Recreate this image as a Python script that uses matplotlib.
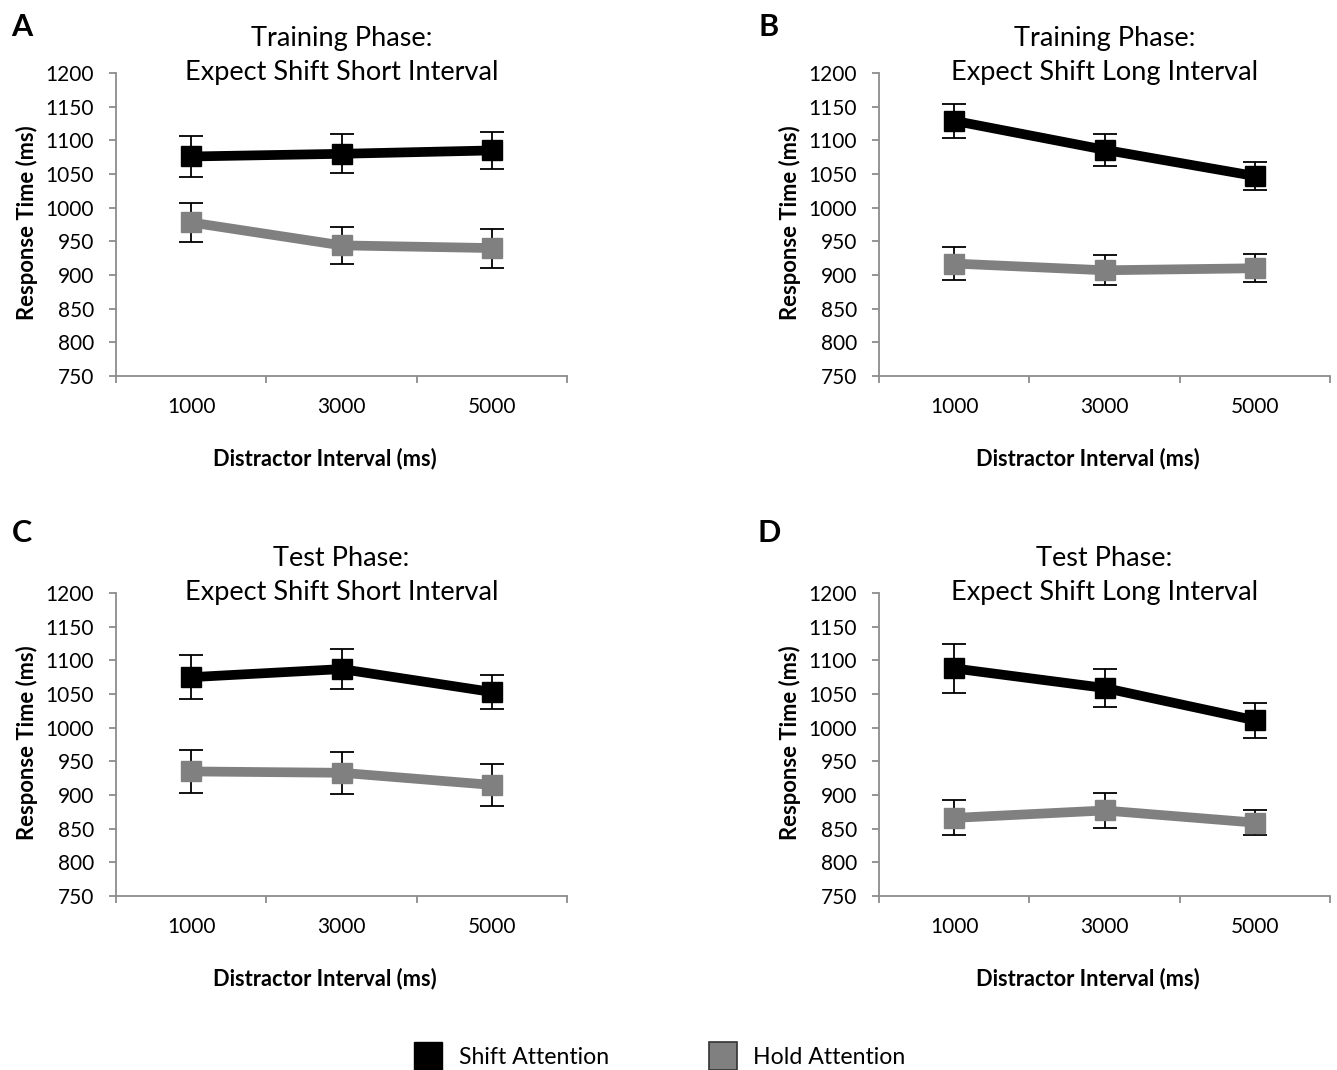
import matplotlib
matplotlib.use("Agg")
import matplotlib.pyplot as plt
from matplotlib.lines import Line2D

plt.rcParams['font.family'] = ['Lato', 'DejaVu Sans']

categories = ["1000", "3000", "5000"]
series_names = ["Shift Attention", "Hold Attention"]

# Panel A
a_shift = [1076, 1080, 1085]
a_shift_err = [31, 29, 28]
a_hold = [978, 944, 940]
a_hold_err = [29, 28, 29]
# Panel B
b_shift = [1129, 1086, 1047]
b_shift_err = [25, 24, 21]
b_hold = [917, 907, 910]
b_hold_err = [25, 22, 21]
# Panel C
c_shift = [1075, 1087, 1053]
c_shift_err = [33, 30, 25]
c_hold = [935, 933, 915]
c_hold_err = [32, 31, 31]
# Panel D
d_shift = [1088, 1059, 1011]
d_shift_err = [36, 28, 26]
d_hold = [866, 877, 859]
d_hold_err = [26, 26, 19]

panel_letters = ["A", "B", "C", "D"]
titles = [("Training Phase:", "Expect Shift Short Interval"),
          ("Training Phase:", "Expect Shift Long Interval"),
          ("Test Phase:", "Expect Shift Short Interval"),
          ("Test Phase:", "Expect Shift Long Interval")]
yticks = [750, 800, 850, 900, 950, 1000, 1050, 1100, 1150, 1200]
xlabel = "Distractor Interval (ms)"
ylabel = "Response Time (ms)"

data = [(a_shift, a_shift_err, a_hold, a_hold_err),
        (b_shift, b_shift_err, b_hold, b_hold_err),
        (c_shift, c_shift_err, c_hold, c_hold_err),
        (d_shift, d_shift_err, d_hold, d_hold_err)]

W, H = 1337, 1070
fig = plt.figure(figsize=(W / 100, H / 100), dpi=100)

# axes boxes in pixels: left, top, right, bottom
boxes = [(116, 73, 567, 376), (879, 73, 1330, 376),
         (116, 593, 567, 896), (879, 593, 1330, 896)]
letter_pos = [(22, 27), (769, 27), (22, 533), (769, 533)]

BLACK = "#000000"
GRAY = "#808080"
SPINE = "#8c8c8c"

x = [1, 2, 3]
for i, (l, t, r, b) in enumerate(boxes):
    ax = fig.add_axes([l / W, 1 - b / H, (r - l) / W, (b - t) / H])
    shift, shift_err, hold, hold_err = data[i]
    for vals, errs, col in [(shift, shift_err, BLACK), (hold, hold_err, GRAY)]:
        ax.errorbar(x, vals, yerr=errs, fmt='none', ecolor='black',
                    elinewidth=1.3, capsize=8.5, capthick=1.3, zorder=2)
        ax.plot(x, vals, color=col, lw=7, marker='s', markersize=14,
                markerfacecolor=col, markeredgecolor=col, zorder=3,
                solid_joinstyle='miter')
    ax.set_xlim(0.5, 3.5)
    ax.set_ylim(750, 1200)
    ax.set_yticks(yticks)
    ax.set_xticks(x)
    ax.set_xticklabels(categories)
    ax.set_xticks([0.5, 1.5, 2.5, 3.5], minor=True)
    ax.tick_params(axis='x', which='major', length=0, pad=15, labelsize=15)
    ax.tick_params(axis='x', which='minor', length=5, width=1.3, color=SPINE, direction='out')
    ax.tick_params(axis='y', which='major', length=5, width=1.3, color=SPINE,
                   pad=11, labelsize=15, direction='out')
    for s in ['top', 'right']:
        ax.spines[s].set_visible(False)
    for s in ['left', 'bottom']:
        ax.spines[s].set_color(SPINE)
        ax.spines[s].set_linewidth(1.3)
    ax.patch.set_alpha(0)
    ax.text(0.5, 1.1155, titles[i][0], transform=ax.transAxes, ha='center',
            va='center', fontsize=19.5)
    ax.text(0.5, 1.003, titles[i][1], transform=ax.transAxes, ha='center',
            va='center', fontsize=19.5)
    ax.text(0.463, -0.271, xlabel, transform=ax.transAxes, ha='center',
            va='center', fontsize=15.7, fontweight='bold')
    ax.text(-0.197, 0.507, ylabel, transform=ax.transAxes, ha='center',
            va='center', fontsize=15.8, fontweight='bold', rotation=90)
    lx, ly = letter_pos[i]
    fig.text(lx / W, 1 - ly / H, panel_letters[i], ha='center', va='center',
             fontsize=22, fontweight='bold')

handles = [Line2D([], [], linestyle='none', marker='s', markersize=20,
                  markerfacecolor=BLACK, markeredgecolor=BLACK),
           Line2D([], [], linestyle='none', marker='s', markersize=20,
                  markerfacecolor=GRAY, markeredgecolor="#333333", markeredgewidth=1.2)]
fig.legend(handles, series_names, loc='center', bbox_to_anchor=(660 / W, 1 - 1058 / H),
           ncol=2, frameon=False, fontsize=16.7, handletextpad=0.72, columnspacing=4.3,
           handlelength=1.2, borderaxespad=0, borderpad=0)

fig.savefig("out.png", dpi=100)
